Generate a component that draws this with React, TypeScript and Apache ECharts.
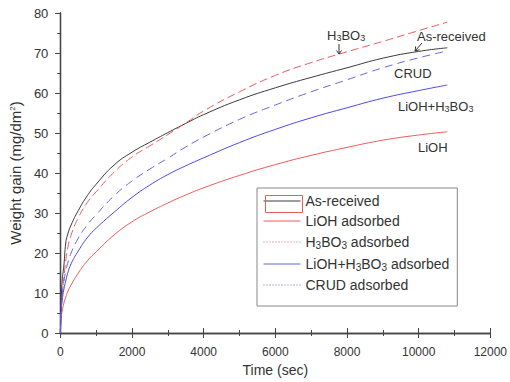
import React, { useEffect, useRef } from "react";
import * as echarts from "echarts";

const timeSec = [0, 25, 50, 100, 150, 200, 300, 500, 750, 1000, 1500, 2000, 2500, 3000, 3500, 4000, 5000, 6000, 7000, 8000, 9000, 10000, 10800];
const asReceived = [0, 8, 13, 17, 22.5, 24.5, 27, 30.6, 34.3, 37.2, 42, 45.2, 47.7, 50.1, 52.4, 54.6, 58.3, 61.3, 63.9, 66.3, 68.7, 70.4, 71.3];
const liohAdsorbed = [0, 4, 5.5, 7.5, 9, 10.2, 12, 15, 18, 20.3, 24.5, 27.8, 30.3, 32.5, 34.5, 36.3, 39.4, 42.1, 44.4, 46.4, 48.2, 49.5, 50.3];
const h3bo3Adsorbed = [0, 6, 9, 14, 18, 21, 24.5, 28.8, 32.6, 35.3, 40.2, 44, 46.8, 49.6, 52.5, 55.5, 60.3, 64.4, 67.6, 70.3, 72.9, 75.6, 77.7];
const liohH3bo3Adsorbed = [0, 5.5, 8, 11, 13, 14.8, 17.3, 20.5, 23.8, 26.2, 30.2, 33.9, 37, 39.6, 41.8, 43.8, 47.6, 50.9, 53.8, 56.3, 58.7, 60.6, 62];
const crudAdsorbed = [0, 6.5, 9.5, 13, 15.5, 17.3, 20, 23.7, 27, 29.6, 34.3, 38, 41, 43.7, 46.5, 49, 53.4, 57, 60.3, 63.3, 66.3, 68.8, 70.5];

const seriesNames = ["As-received", "LiOH adsorbed", "H3BO3 adsorbed", "LiOH+H3BO3 adsorbed", "CRUD adsorbed"];
const xTicks = { min: 0, max: 12000, interval: 2000 };
const yTicks = { min: 0, max: 80, interval: 10 };

const RED = "#ee5a5a";
const BLUE = "#4a4ae8";
const BLUE_D = "#6464e6";
const BLACK = "#3a3a3a";
const TXT = "#333";
const FONT = "'Liberation Sans', Arial, sans-serif";

const pair = (vals: number[]) => timeSec.map((t, i) => [t, vals[i]]);

export default function App() {
  const ref = useRef<HTMLDivElement>(null);
  useEffect(() => {
    if (!ref.current) return;
    const chart = echarts.init(ref.current, undefined, { renderer: "svg" });
    const axisLine = { show: true, lineStyle: { color: "#444", width: 1.3 } };
    const mkSeries = (name: string, vals: number[], color: string, type: any) => ({
      name,
      type: "line",
      data: pair(vals),
      symbol: "none",
      showSymbol: false,
      smooth: 0.5,
      lineStyle: { color, width: 1, type },
      itemStyle: { color },
      z: 3,
    });
    const option: any = {
      animation: false,
      textStyle: { fontFamily: FONT },
      grid: { left: 57, right: 18, top: 13, bottom: 49, containLabel: false },
      xAxis: [
        {
          type: "value",
          position: "bottom",
          ...xTicks,
          name: "Time (sec)",
          nameLocation: "middle",
          nameGap: 23,
          nameTextStyle: { fontSize: 14, color: TXT, fontFamily: FONT },
          axisLine,
          axisTick: { show: true, inside: true, length: 5, lineStyle: { color: "#444" } },
          minorTick: { show: true, splitNumber: 2, length: 3, lineStyle: { color: "#444" } },
          axisLabel: { fontSize: 12, color: TXT, margin: 13, fontFamily: FONT, formatter: (v: number) => String(v) },
          splitLine: { show: false },
          minorSplitLine: { show: false },
        },
        {
          type: "value",
          position: "top",
          ...xTicks,
          axisLine,
          axisTick: { show: true, inside: true, length: 5, lineStyle: { color: "#444" } },
          minorTick: { show: true, splitNumber: 2, length: 3, lineStyle: { color: "#444" } },
          axisLabel: { show: false },
          splitLine: { show: false },
        },
      ],
      yAxis: [
        {
          type: "value",
          position: "left",
          ...yTicks,
          name: "Weight gain (mg/dm{sup|2})",
          nameLocation: "middle",
          nameGap: 33,
          nameTextStyle: {
            fontSize: 15,
            color: TXT,
            fontFamily: FONT,
            rich: { sup: { fontSize: 8, verticalAlign: "top", color: TXT, fontFamily: FONT, lineHeight: 8 } },
          },
          axisLine,
          axisTick: { show: true, inside: false, length: 5, lineStyle: { color: "#444" } },
          minorTick: { show: true, splitNumber: 2, length: 3, lineStyle: { color: "#444" } },
          axisLabel: { fontSize: 13, color: TXT, margin: 12, fontFamily: FONT, formatter: (v: number) => String(v) },
          splitLine: { show: false },
        },
        {
          type: "value",
          position: "right",
          ...yTicks,
          axisLine,
          axisTick: { show: true, inside: true, length: 5, lineStyle: { color: "#444" } },
          minorTick: { show: true, splitNumber: 2, length: 3, lineStyle: { color: "#444" } },
          axisLabel: { show: false },
          splitLine: { show: false },
        },
      ],
      legend: {
        orient: "vertical",
        left: 257,
        top: 188,
        padding: [6, 8, 14, 6],
        itemWidth: 37,
        itemHeight: 14,
        itemGap: 6,
        borderColor: "#888",
        borderWidth: 1,
        backgroundColor: "#fff",
        selectedMode: false,
        itemStyle: { opacity: 0 },
        textStyle: {
          fontSize: 14,
          color: TXT,
          fontFamily: FONT,
          rich: {
            n: { fontSize: 14, color: TXT, fontFamily: FONT, lineHeight: 16 },
            sub: { fontSize: 10, color: TXT, fontFamily: FONT, verticalAlign: "bottom", lineHeight: 16, padding: [6, 0, 0, 0] },
          },
        },
        formatter: (name: string) =>
          name
            .split(/(3)/)
            .filter((s) => s.length)
            .map((s) => (s === "3" ? "{sub|3}" : `{n|${s}}`))
            .join(""),
        data: [
          { name: seriesNames[0], itemStyle: { opacity: 0 }, lineStyle: { color: BLACK, type: "solid", width: 1 } },
          { name: seriesNames[1], itemStyle: { opacity: 0 }, lineStyle: { color: RED, type: "solid", width: 1 } },
          { name: seriesNames[2], itemStyle: { opacity: 0 }, lineStyle: { color: "#e85a6a", type: [1, 2], width: 1 } },
          { name: seriesNames[3], itemStyle: { opacity: 0 }, lineStyle: { color: BLUE_D, type: "solid", width: 1 } },
          { name: seriesNames[4], itemStyle: { opacity: 0 }, lineStyle: { color: "#7a5ad0", type: [1, 2], width: 1 } },
        ],
      },
      series: [
        mkSeries(seriesNames[0], asReceived, BLACK, "solid"),
        mkSeries(seriesNames[1], liohAdsorbed, RED, "solid"),
        mkSeries(seriesNames[2], h3bo3Adsorbed, RED, [8, 4]),
        mkSeries(seriesNames[3], liohH3bo3Adsorbed, BLUE, "solid"),
        mkSeries(seriesNames[4], crudAdsorbed, BLUE_D, [8, 5]),
      ],
      graphic: [
        { type: "rect", left: 263, top: 193, shape: { width: 37, height: 17 }, style: { fill: "none", stroke: RED, lineWidth: 1 }, z: 100 },
        {
          type: "text",
          left: 327,
          top: 29,
          style: {
            text: "H{s|3}BO{s|3}",
            fontSize: 13,
            fill: TXT,
            fontFamily: FONT,
            rich: { s: { fontSize: 9, fill: TXT, fontFamily: FONT, verticalAlign: "bottom", padding: [4, 0, 0, 0] } },
          },
          z: 100,
        },
        { type: "line", shape: { x1: 339, y1: 44, x2: 339, y2: 54 }, style: { stroke: "#333", lineWidth: 1 }, z: 100 },
        { type: "polyline", shape: { points: [[336.5, 50.5], [339, 54], [341.5, 50.5]] }, style: { stroke: "#333", fill: "none", lineWidth: 1 }, z: 100 },
        { type: "text", left: 417, top: 30, style: { text: "As-received", fontSize: 13, fill: TXT, fontFamily: FONT }, z: 100 },
        { type: "line", shape: { x1: 422, y1: 43, x2: 415, y2: 51 }, style: { stroke: "#333", lineWidth: 1 }, z: 100 },
        { type: "polyline", shape: { points: [[419.5, 49.7], [415, 51], [415.7, 46.4]] }, style: { stroke: "#333", fill: "none", lineWidth: 1 }, z: 100 },
        { type: "text", left: 394, top: 67, style: { text: "CRUD", fontSize: 13, fill: TXT, fontFamily: FONT }, z: 100 },
        {
          type: "text",
          left: 398,
          top: 100,
          style: {
            text: "LiOH+H{s|3}BO{s|3}",
            fontSize: 13,
            fill: TXT,
            fontFamily: FONT,
            rich: { s: { fontSize: 9, fill: TXT, fontFamily: FONT, verticalAlign: "bottom", padding: [4, 0, 0, 0] } },
          },
          z: 100,
        },
        { type: "text", left: 418, top: 141, style: { text: "LiOH", fontSize: 13, fill: TXT, fontFamily: FONT }, z: 100 },
      ],
    };
    chart.setOption(option);
    return () => chart.dispose();
  }, []);
  return <div ref={ref} style={{ width: 510, height: 382, position: "absolute", left: 0, top: 0, background: "#fff" }} />;
}
